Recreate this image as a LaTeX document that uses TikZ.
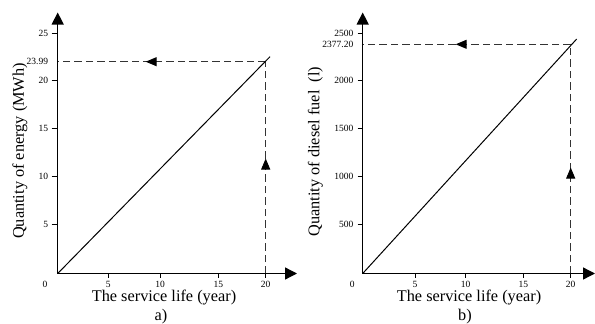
\documentclass[tikz,border=0pt]{standalone}
\usepackage{fontspec}
\setmainfont{Liberation Serif}
\usetikzlibrary{arrows.meta,decorations.markings}
\tikzset{
  axisline/.style={line width=1.3pt,-{Triangle[length=12pt,width=12pt]}},
  curveline/.style={line width=1pt},
  guideline/.style={line width=1pt,black!80,dash pattern=on 7.5pt off 4pt},
  midarrow/.style={postaction={decorate},decoration={markings,
     mark=at position #1 with {\arrow[black]{Triangle[length=11pt,width=9pt]}}}},
  ticklab/.style={inner sep=0pt,font=\fontsize{9.5}{10}\selectfont},
  biglab/.style={inner sep=0pt,font=\fontsize{16.3}{18}\selectfont},
  tickmark/.style={line width=0.8pt}
}
\begin{document}
\begin{tikzpicture}[x=1pt,y=-1pt]
\useasboundingbox (0,0) rectangle (595,324);
% ---------- panel a ----------
\coordinate (oA) at (57.7,273.5);
\coordinate (xA) at (297,273.5);
\coordinate (yA) at (57.7,12.5);
\coordinate (endA) at (270,56.7);
\coordinate (cA) at (265.7,61.7);
\coordinate (hA) at (57.7,61.7);
\coordinate (vA) at (265.7,273.5);
\draw[guideline,midarrow=120pt] (cA) -- (hA);
\draw[guideline,midarrow=115pt] (vA) -- (cA);
\draw[curveline] (oA) -- (endA);
\draw[axisline] (oA) -- (xA);
\draw[axisline] (oA) -- (yA);
\foreach \x/\l in {108.3/5,160/10,218.3/15,265.7/20}{
  \draw[tickmark] (\x,273.5) -- (\x,277.5);
  \node[ticklab] at (\x,284) {\l};
}
\node[ticklab] (zA) at (45,284) {0};
\foreach \y/\l in {33.3/25,80/20,128.3/15,176.7/10,224.3/5}{
  \draw[tickmark] (51.7,\y) -- (57.7,\y);
  \node[ticklab,anchor=east] at (48.3,\y) {\l};
}
\node[ticklab,anchor=east] (tA) at (48.3,61.7) {23.99};
\node[biglab,rotate=90] (ylA) at (20,151) {Quantity of energy (MWh)};
\node[biglab] (xlA) at (164,297.5) {The service life (year)};
\node[biglab] (capA) at (161,316.5) {a)};
% ---------- panel b ----------
\coordinate (oB) at (362.7,273.5);
\coordinate (xB) at (595,273.5);
\coordinate (yB) at (362.7,12.5);
\coordinate (endB) at (576.7,39);
\coordinate (cB) at (570.7,44.3);
\coordinate (hB) at (362.7,44.3);
\coordinate (vB) at (570.7,273.5);
\draw[guideline,midarrow=115pt] (cB) -- (hB);
\draw[guideline,midarrow=106pt] (vB) -- (cB);
\draw[curveline] (oB) -- (endB);
\draw[axisline] (oB) -- (xB);
\draw[axisline] (oB) -- (yB);
\foreach \x/\l in {415/5,465.7/10,523.3/15,570.7/20}{
  \draw[tickmark] (\x,273.5) -- (\x,277.5);
  \node[ticklab] at (\x,284) {\l};
}
\node[ticklab] (zB) at (352.3,284) {0};
\foreach \y/\l in {33.3/2500,80/2000,128.3/1500,176.7/1000,224.3/500}{
  \draw[tickmark] (357.7,\y) -- (362.7,\y);
  \node[ticklab,anchor=east] at (353.5,\y) {\l};
}
\node[ticklab,anchor=east] (tB) at (353.5,44.3) {2377.20};
\node[biglab,rotate=90] (ylB) at (315.5,151.7) {Quantity of diesel fuel\ \ (l)};
\node[biglab] (xlB) at (469,297.5) {The service life (year)};
\node[biglab] (capB) at (465,316.5) {b)};
\end{tikzpicture}
\end{document}
